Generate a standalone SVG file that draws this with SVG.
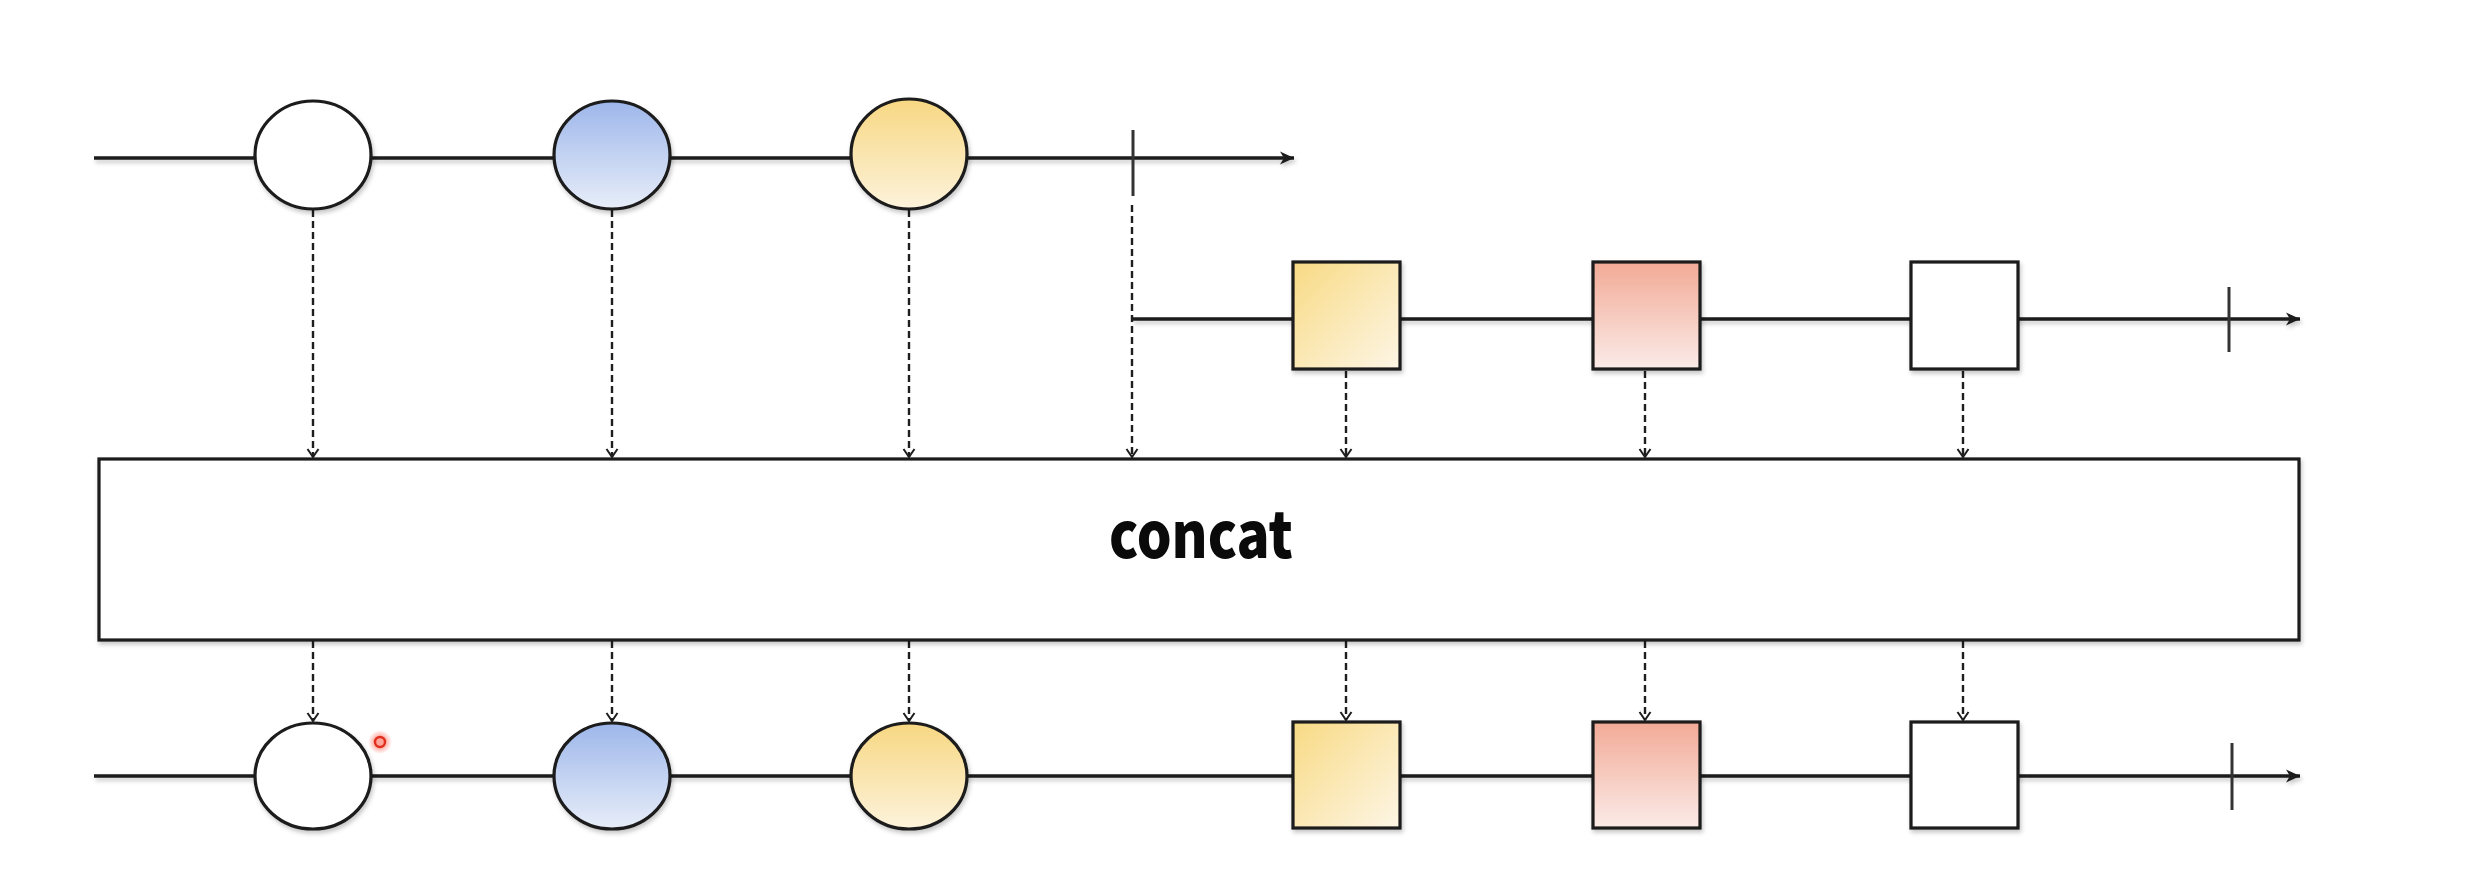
<svg xmlns="http://www.w3.org/2000/svg" width="2466" height="870" viewBox="0 0 2466 870">
<style>
.ln{stroke:#1a1a1a;stroke-width:3.4;fill:none}
.sh{stroke:#1a1a1a;stroke-width:3.2}
.dash{stroke:#1e1e1e;stroke-width:2.4;stroke-dasharray:7 4;fill:none}
.tick{stroke:#333;stroke-width:3}
.lbl{font-family:"Noto Sans CJK KR","Noto Sans",sans-serif;font-weight:900;font-size:64px;fill:#0a0a0a}
</style>
<defs>
<linearGradient id="gBlue" x1="0" y1="0" x2="0" y2="1"><stop offset="0" stop-color="#9db6ea"/><stop offset="1" stop-color="#e8eef9"/></linearGradient>
<linearGradient id="gYel" x1="0" y1="0" x2="0" y2="1"><stop offset="0" stop-color="#f7d782"/><stop offset="1" stop-color="#fdf3dc"/></linearGradient>
<linearGradient id="gYelSq" x1="0" y1="0" x2="1" y2="1"><stop offset="0" stop-color="#f8da84"/><stop offset="1" stop-color="#fdf6e6"/></linearGradient>
<linearGradient id="gRed" x1="0" y1="0" x2="0" y2="1"><stop offset="0" stop-color="#f2aa96"/><stop offset="1" stop-color="#fbebe8"/></linearGradient>
<filter id="shadow" x="-5%" y="-5%" width="110%" height="120%"><feDropShadow dx="1.5" dy="3" stdDeviation="2" flood-color="#000" flood-opacity="0.22"/></filter>
<radialGradient id="gGlow"><stop offset="0.4" stop-color="#ff6a5a" stop-opacity="0.6"/><stop offset="1" stop-color="#ff6a5a" stop-opacity="0"/></radialGradient>
<marker id="aMain" viewBox="0 0 16 16" refX="15" refY="8" markerWidth="16" markerHeight="16" markerUnits="userSpaceOnUse" orient="auto"><path d="M1,1.5 L15,8 L1,14.5 L5,8 Z" fill="#1a1a1a"/></marker>
<marker id="aDash" viewBox="0 0 14 14" refX="7" refY="13" markerWidth="14" markerHeight="14" markerUnits="userSpaceOnUse" orient="0"><path d="M1.5,5 L7,13 L12.5,5" fill="none" stroke="#1e1e1e" stroke-width="2"/></marker>
</defs>
<rect width="2466" height="870" fill="#ffffff"/>

<g id="timelines" filter="url(#shadow)">
<line class="ln" x1="94" y1="158" x2="1294" y2="158" marker-end="url(#aMain)"/>
<line class="ln" x1="1132" y1="319" x2="2300" y2="319" marker-end="url(#aMain)"/>
<line class="ln" x1="94" y1="776" x2="2300" y2="776" marker-end="url(#aMain)"/>
</g>

<g id="connectors">
<line class="dash" x1="313" y1="210" x2="313" y2="457" marker-end="url(#aDash)"/>
<line class="dash" x1="612" y1="210" x2="612" y2="457" marker-end="url(#aDash)"/>
<line class="dash" x1="909" y1="210" x2="909" y2="457" marker-end="url(#aDash)"/>
<line class="dash" x1="1132" y1="205" x2="1132" y2="457" marker-end="url(#aDash)"/>
<line class="dash" x1="1346" y1="371" x2="1346" y2="457" marker-end="url(#aDash)"/>
<line class="dash" x1="1645" y1="371" x2="1645" y2="457" marker-end="url(#aDash)"/>
<line class="dash" x1="1963" y1="371" x2="1963" y2="457" marker-end="url(#aDash)"/>
<line class="dash" x1="313" y1="641" x2="313" y2="721" marker-end="url(#aDash)"/>
<line class="dash" x1="612" y1="641" x2="612" y2="721" marker-end="url(#aDash)"/>
<line class="dash" x1="909" y1="641" x2="909" y2="721" marker-end="url(#aDash)"/>
<line class="dash" x1="1346" y1="641" x2="1346" y2="720" marker-end="url(#aDash)"/>
<line class="dash" x1="1645" y1="641" x2="1645" y2="720" marker-end="url(#aDash)"/>
<line class="dash" x1="1963" y1="641" x2="1963" y2="720" marker-end="url(#aDash)"/>
</g>

<g id="completions">
<line class="tick" x1="1133" y1="130" x2="1133" y2="196"/>
<line class="tick" x1="2229" y1="287" x2="2229" y2="352"/>
<line class="tick" x1="2232" y1="743" x2="2232" y2="810"/>
</g>

<g id="src1" filter="url(#shadow)">
<ellipse class="sh" cx="313" cy="155" rx="58" ry="54" fill="#ffffff"/>
<ellipse class="sh" cx="612" cy="155" rx="58" ry="54" fill="url(#gBlue)"/>
<ellipse class="sh" cx="909" cy="154" rx="58" ry="55" fill="url(#gYel)"/>
</g>

<g id="src2" filter="url(#shadow)">
<rect class="sh" x="1293" y="262" width="107" height="107" fill="url(#gYelSq)"/>
<rect class="sh" x="1593" y="262" width="107" height="107" fill="url(#gRed)"/>
<rect class="sh" x="1911" y="262" width="107" height="107" fill="#ffffff"/>
</g>

<g id="concat" filter="url(#shadow)">
<rect class="sh" x="99" y="459" width="2200" height="181" fill="#ffffff"/>
</g>
<text class="lbl" x="1201" y="558" text-anchor="middle" textLength="184" lengthAdjust="spacingAndGlyphs">concat</text>

<g id="result" filter="url(#shadow)">
<ellipse class="sh" cx="313" cy="776" rx="58" ry="53" fill="#ffffff"/>
<ellipse class="sh" cx="612" cy="776" rx="58" ry="53" fill="url(#gBlue)"/>
<ellipse class="sh" cx="909" cy="776" rx="58" ry="53" fill="url(#gYel)"/>
<rect class="sh" x="1293" y="722" width="107" height="106" fill="url(#gYelSq)"/>
<rect class="sh" x="1593" y="722" width="107" height="106" fill="url(#gRed)"/>
<rect class="sh" x="1911" y="722" width="107" height="106" fill="#ffffff"/>
</g>

<g id="cursor">
<circle cx="380" cy="742" r="12" fill="url(#gGlow)"/>
<circle cx="380" cy="742" r="5" fill="none" stroke="#e0301e" stroke-width="2.5"/>
</g>
</svg>
